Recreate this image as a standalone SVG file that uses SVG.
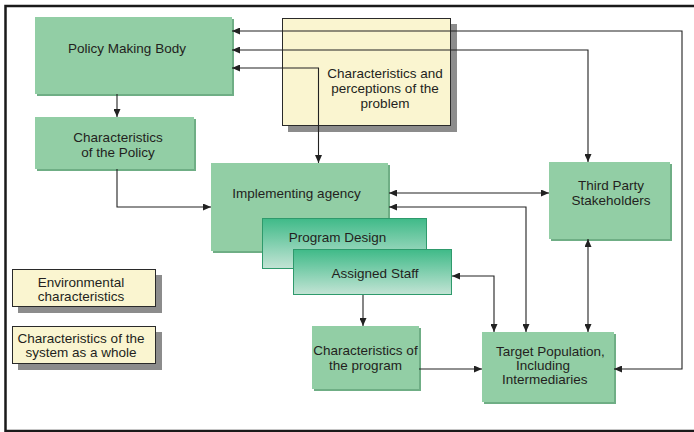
<svg xmlns="http://www.w3.org/2000/svg" width="694" height="432" viewBox="0 0 694 432">
<style>
text{font-family:"Liberation Sans",Arial,sans-serif;font-size:13.5px;fill:#231f20}
.c{text-anchor:middle}
.g{fill:#92cea5}
.gs{fill:#6fae85}
.y{fill:#faf5d0;stroke:#2a2a2a;stroke-width:1}
.ys{fill:#8c8c8c}
.gr{fill:url(#grad);stroke:#2f9a6c;stroke-width:1}
.ln{fill:none;stroke:#222;stroke-width:1.1}
</style>
<defs>
<linearGradient id="grad" x1="0" y1="0" x2="0" y2="1">
<stop offset="0" stop-color="#3fba88"/>
<stop offset="1" stop-color="#c3e4d5"/>
</linearGradient>
<marker id="ah" viewBox="0 0 8 7" refX="8" refY="3.5" markerWidth="8" markerHeight="7" markerUnits="userSpaceOnUse" orient="auto-start-reverse">
<path d="M0,0 L8,3.5 L0,7 Z" fill="#222"/>
</marker>
</defs>
<rect width="694" height="432" fill="#fff"/>
<path d="M694,6 H5.5 V431 H694" fill="none" stroke="#1a1a1a" stroke-width="2.5"/>

<g id="policy-making-body">
<rect class="gs" x="37" y="19" width="197" height="77"/>
<rect class="g" x="35" y="17" width="197" height="77"/>
<text class="c" x="127" y="53">Policy Making Body</text>
</g>
<g id="characteristics-policy">
<rect class="gs" x="37" y="119" width="159" height="52"/>
<rect class="g" x="35" y="117" width="159" height="52"/>
<text class="c" x="118" y="141.5">Characteristics</text>
<text class="c" x="118" y="156.5">of the Policy</text>
</g>
<g id="problem">
<rect class="ys" x="288" y="24" width="169" height="108"/>
<rect class="y" x="282.5" y="18.5" width="168" height="107"/>
<text class="c" x="385" y="77.5">Characteristics and</text>
<text class="c" x="385" y="92.5">perceptions of the</text>
<text class="c" x="385" y="107.5">problem</text>
</g>
<g id="implementing-agency">
<rect class="gs" x="213" y="165" width="177" height="88"/>
<rect class="g" x="211" y="163" width="177" height="88"/>
<text class="c" x="296.5" y="197.5">Implementing agency</text>
</g>
<g id="program-design">
<rect class="gr" x="262.5" y="218.5" width="164" height="50"/>
<text class="c" x="337.5" y="241.5">Program Design</text>
</g>
<g id="assigned-staff">
<rect class="gr" x="293.5" y="249.5" width="158" height="45"/>
<text class="c" x="375" y="277.5">Assigned Staff</text>
</g>
<g id="third-party">
<rect class="gs" x="551" y="164" width="121" height="77"/>
<rect class="g" x="549" y="162" width="121" height="77"/>
<text class="c" x="611" y="189.5">Third Party</text>
<text class="c" x="611" y="205">Stakeholders</text>
</g>
<g id="characteristics-program">
<rect class="gs" x="314" y="328" width="107" height="63"/>
<rect class="g" x="312" y="326" width="107" height="63"/>
<text class="c" x="365.5" y="354.5">Characteristics of</text>
<text class="c" x="365.5" y="369.5">the program</text>
</g>
<g id="target-population">
<rect class="gs" x="484" y="334" width="132" height="70"/>
<rect class="g" x="482" y="332" width="132" height="70"/>
<text x="496" y="355.5">Target Population,</text>
<text x="516" y="369.5">Including</text>
<text x="502" y="383.5">Intermediaries</text>
</g>
<g id="environmental">
<rect class="ys" x="18" y="275" width="144" height="38"/>
<rect class="y" x="12.5" y="269.5" width="143" height="37"/>
<text class="c" x="81" y="286.5">Environmental</text>
<text class="c" x="81" y="300.5">characteristics</text>
</g>
<g id="system-whole">
<rect class="ys" x="18" y="332" width="144" height="38"/>
<rect class="y" x="12.5" y="326.5" width="143" height="37"/>
<text class="c" x="81" y="342.5">Characteristics of the</text>
<text class="c" x="81" y="356.5">system as a whole</text>
</g>

<g id="connectors" class="ln">
<path d="M232,31 H682 V369 H614" marker-start="url(#ah)" marker-end="url(#ah)"/>
<path d="M232,50 H588 V162" marker-start="url(#ah)" marker-end="url(#ah)"/>
<path d="M232,68 H318.5 V163" marker-start="url(#ah)" marker-end="url(#ah)"/>
<path d="M117,94 V117" marker-end="url(#ah)"/>
<path d="M117,169 V207 H211" marker-end="url(#ah)"/>
<path d="M389,193 H549" marker-start="url(#ah)" marker-end="url(#ah)"/>
<path d="M389,207 H526 V332" marker-start="url(#ah)" marker-end="url(#ah)"/>
<path d="M452,276 H494 V332" marker-start="url(#ah)" marker-end="url(#ah)"/>
<path d="M588,239 V332" marker-start="url(#ah)" marker-end="url(#ah)"/>
<path d="M363,295 V326" marker-end="url(#ah)"/>
<path d="M419,369 H482" marker-end="url(#ah)"/>
</g>
</svg>
